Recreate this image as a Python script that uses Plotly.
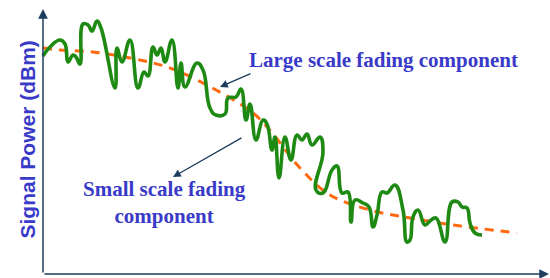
import plotly.graph_objects as go

# Small-scale fading trace (distance units, power units), hand-traced
fade_x = [43, 50, 60, 65, 68, 73, 76, 80, 83, 88, 92, 97, 101, 115, 117, 122, 130, 138, 144, 148,
          153, 157, 161, 165, 172, 178, 181, 185, 197, 203, 210, 216, 225, 228, 236, 241, 246, 250,
          256, 263, 267, 272, 275, 279, 285, 291, 297, 302, 307, 312, 320, 323, 316, 323, 332, 337,
          342, 348, 351, 355, 363, 369, 373, 377, 382, 387, 395, 403, 407, 410, 413, 418, 425, 430,
          436, 445, 452, 458, 462, 467, 470, 475, 482]
fade_y = [224, 233, 240, 236, 218, 225, 223, 216, 256, 255, 249, 259, 252, 192, 232, 218, 240, 192, 208, 204,
          233, 225, 232, 218, 240, 192, 217, 193, 217, 210, 172, 165, 166, 182, 183, 191, 160, 176,
          140, 160, 156, 130, 143, 102, 143, 120, 145, 140, 146, 135, 143, 128, 90, 87, 110, 114,
          87, 88, 58, 80, 77, 73, 53, 65, 88, 87, 95, 70, 38, 40, 63, 70, 55, 59,
          62, 38, 78, 78, 73, 72, 57, 47, 45]

# Large-scale (path loss + shadowing) trend
trend_x = [43, 60, 93, 140, 167, 203, 253, 273, 300, 330, 370, 410, 453, 517]
trend_y = [232, 230, 228, 220, 213, 197, 167, 146, 112, 85, 70, 62, 55, 47]

y_title = "Signal Power (dBm)"
label_large = "Large scale fading component"
label_small = "Small scale fading<br>component"

TEXT_BLUE = "#3A3AC8"
NAVY = "#1C3D5E"

fig = go.Figure()
fig.add_trace(go.Scatter(x=trend_x, y=trend_y, mode="lines",
                         line=dict(color="#FF6A10", width=3, dash="9px,7px", shape="spline"),
                         hoverinfo="skip", showlegend=False))
fig.add_trace(go.Scatter(x=fade_x, y=fade_y, mode="lines",
                         line=dict(color="#1E8A14", width=3.6, shape="spline", smoothing=1.3),
                         hoverinfo="skip", showlegend=False))

ann = []
# axes with arrows
ann.append(dict(x=43, y=271, ax=43, ay=6, xref="x", yref="y", axref="x", ayref="y",
                showarrow=True, arrowhead=2, arrowsize=1.3, arrowwidth=1.5, arrowcolor=NAVY, text=""))
ann.append(dict(x=549, y=6, ax=43, ay=6, xref="x", yref="y", axref="x", ayref="y",
                showarrow=True, arrowhead=2, arrowsize=1.3, arrowwidth=1.5, arrowcolor=NAVY, text=""))
# pointer arrows
ann.append(dict(x=220, y=193, ax=252, ay=207, xref="x", yref="y", axref="x", ayref="y",
                showarrow=True, arrowhead=2, arrowsize=1.2, arrowwidth=1.3, arrowcolor=NAVY, text=""))
ann.append(dict(x=173, y=103, ax=243, ay=143, xref="x", yref="y", axref="x", ayref="y",
                showarrow=True, arrowhead=2, arrowsize=1.2, arrowwidth=1.3, arrowcolor=NAVY, text=""))
# labels
ann.append(dict(x=383, y=220, xref="x", yref="y", text=label_large, showarrow=False,
                font=dict(family="Liberation Serif", size=21, color=TEXT_BLUE, weight="bold")))
ann.append(dict(x=164, y=78, xref="x", yref="y", text=label_small, showarrow=False,
                font=dict(family="Liberation Serif", size=21, color=TEXT_BLUE, weight="bold")))
ann.append(dict(x=27, y=140.5, xref="x", yref="y", text=y_title, showarrow=False, textangle=-90,
                font=dict(family="Liberation Sans", size=21, color=TEXT_BLUE, weight="bold")))

fig.update_layout(
    width=550, height=278,
    margin=dict(l=0, r=0, t=0, b=0),
    paper_bgcolor="white", plot_bgcolor="white",
    xaxis=dict(range=[0, 550], visible=False, fixedrange=True),
    yaxis=dict(range=[2, 280], visible=False, fixedrange=True),
    annotations=ann,
    showlegend=False,
)
fig.write_html("out.html", config={"displayModeBar": False},
               post_script="document.body.style.margin='0';document.body.style.overflow='hidden';")
